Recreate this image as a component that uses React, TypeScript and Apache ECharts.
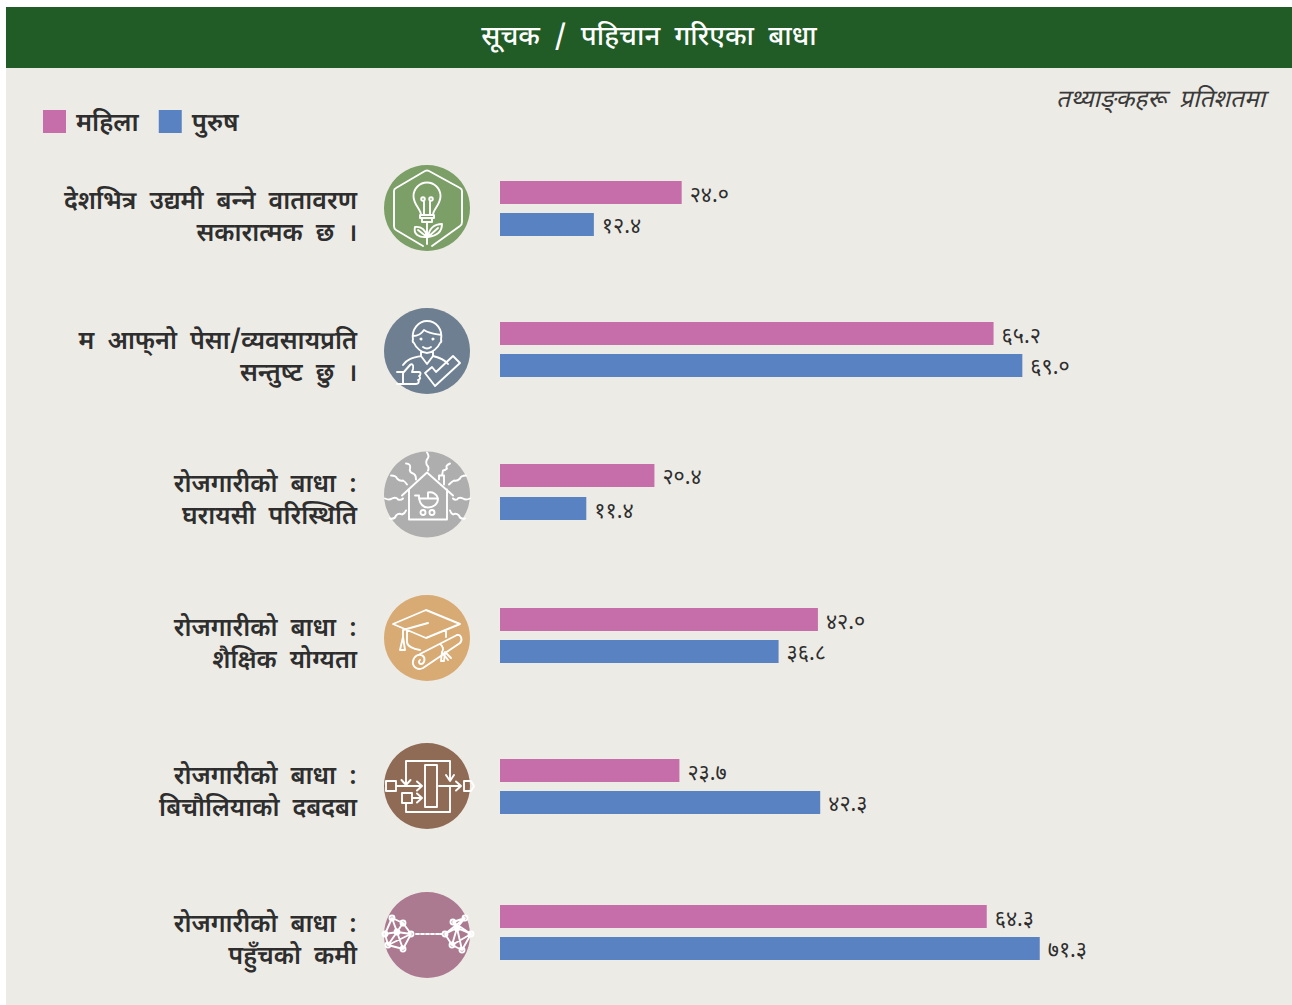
import React, { useEffect, useRef } from "react";
import * as echarts from "echarts";

const titleText = "सूचक  /  पहिचान  गरिएका  बाधा";
const unitText = "तथ्याङ्\u200Cकहरू  प्रतिशतमा";
const seriesNames = ["महिला", "पुरुष"];
const categories = [
  "देशभित्र  उद्यमी  बन्\u200Dने  वातावरण\nसकारात्मक  छ  ।",
  "म  आफ्\u200Cनो  पेसा/व्यवसायप्रति\nसन्तुष्\u200Dट  छु  ।",
  "रोजगारीको  बाधा  :\nघरायसी  परिस्थिति",
  "रोजगारीको  बाधा  :\nशैक्षिक  योग्यता",
  "रोजगारीको  बाधा  :\nबिचौलियाको  दबदबा",
  "रोजगारीको  बाधा  :\nपहुँचको  कमी",
];
const womenValues = [24.0, 65.2, 20.4, 42.0, 23.7, 64.3];
const menValues = [12.4, 69.0, 11.4, 36.8, 42.3, 71.3];
const rowTops = [181, 322, 464, 608, 759, 905];
const rowHeights = [55, 55, 56, 55, 55, 55];
const rowBarGaps = ["39%", "39%", "43.5%", "39%", "39%", "39%"];
const labelPaddings = [-22, -23, -22, -22, -25, -23];
const iconCentersY = [208, 351, 494.5, 638, 786, 935];
const iconColors = ["#7C9E67", "#6D7F90", "#AEAEAE", "#D8AA74", "#8F6B56", "#AC7A90"];

const FONT = "'Noto Sans Devanagari', 'Noto Sans', 'Lohit Devanagari', 'FreeSans', sans-serif";
const PINK = "#C66EAA";
const BLUE = "#5882C1";
const INK = "#2E2E2E";

const devanagariDigits = "०१२३४५६७८९";
const toNepali = (v: number) =>
  v.toFixed(1).replace(/[0-9]/g, (d) => devanagariDigits[Number(d)]);

const circ = (x: number, y: number, r: number) =>
  `M${x - r},${y}a${r},${r} 0 1 0 ${2 * r},0a${r},${r} 0 1 0 ${-2 * r},0`;

const netEdges = (p: number[][], e: number[][]) =>
  e.map(([a, b]) => `M${p[a][0]},${p[a][1]}L${p[b][0]},${p[b][1]}`).join("") +
  p.map(([x, y]) => circ(x, y, 2.5)).join("");

const netLeft = [[-35, -17], [-24, -12], [-42, -1], [-16, -1], [-39, 10], [-24, 14], [-30, -3]];
const netRight = [[38, -17], [26, -13], [18, -1], [44, -1], [25, 10], [35, 15], [30, -7]];
const netLinks = [[0, 1], [0, 2], [1, 3], [3, 5], [2, 4], [4, 5], [0, 6], [1, 6], [2, 6], [3, 6], [4, 6], [5, 6], [4, 3]];

const iconPaths = [
  "M-4,38L-31,22Q-33,21 -33,18V-17Q-33,-19 -31,-20L-2,-37Q0,-38 2,-37L33,-20Q35,-19 35,-17V14Q35,17 33,18L5,38" +
    "M-6,7C-6,1 -13.5,-3 -13.5,-12A13.5,13.5 0 1 1 13.5,-12C13.5,-3 6,1 6,7" +
    "M-7,7H7V10H-7ZM-5,10V14H5V10" +
    "M-3,7V-7M3,7V-7" + circ(-4, -9, 1.8) + circ(4, -9, 1.8) +
    "M0,14V36M0,29C-8,30 -14,26 -12,19C-6,18 -1,22 0,29M-9,22L0,29M1,29C9,28 15,24 15,16C7,16 2,21 1,29M11,20L1,29",
  "M-14,-11C-16,-22 -8,-30 0,-30C9,-30 16,-22 14,-11M-14,-15C-8,-15 -5,-18 -3,-21C3,-17 9,-17 14,-16" +
    "M-14,-12C-15,-9 -13,-8 -13,-8C-11,-3 -5,2 0,2C5,2 11,-3 13,-8C13,-8 15,-9 14,-12" +
    circ(-6, -12, 0.6) + circ(6, -12, 0.6) + "M-4,-4Q0,-1 4,-4" +
    "M-6,0V5L0,13L6,5V0M-6,5C-15,7 -20,8 -24,14M6,5C14,7 18,9 21,13" +
    "M-2,22L5,16L9,21L26,5L33,12L8,35Z" +
    "M-30,21H-24V33H-30M-24,22L-17,14C-15,12 -13,14 -14,18L-15,21H-8C-6,21 -6,24 -8,25C-6,26 -7,29 -9,29C-7,31 -9,33 -11,33H-24",
  "M-25,1L0,-22L26,1M-18,-5V25H20V-5M12,-15V-19H17V-10" +
    "M-12,1H-8L-8,4H11C11,10 6,13 1,13C-4,13 -7,9 -8,4M1,4V-2C6,-3 10,0 11,4" + circ(-4, 18, 2.5) + circ(5, 18, 2.5) +
    "M0,-42Q3,-38 0,-35Q-2,-31 1,-28Q2,-26 1,-24" +
    "M-21,-31Q-16,-31 -17,-26Q-18,-22 -14,-21Q-11,-20 -11,-15" +
    "M23,-31Q18,-29 20,-26Q18,-24 16,-24L15,-19" +
    "M-36,-19Q-31,-19 -30,-16Q-27,-13 -24,-14Q-22,-13 -20,-10" +
    "M39,-19Q34,-19 33,-16Q30,-13 27,-14Q25,-13 22,-10" +
    "M-42,4Q-38,6 -35,4Q-31,2 -29,5Q-26,6 -24,4" +
    "M43,4Q39,6 36,4Q32,2 30,5Q28,6 26,4" +
    "M-37,24Q-32,25 -31,21Q-28,18 -25,20Q-22,19 -21,16" +
    "M38,24Q33,25 32,21Q29,18 26,20Q24,19 23,16",
  "M-1,-28L33,-14L-1,0L-34,-14ZM-20,-8V4C-20,8 -14,11 -7,12M19,-8V-1" +
    "M1,-15L-24,-8V-1M-24,-1L-27,12H-22L-24,-1" +
    "M-7,16L30,-3C34,-4 36,2 33,5L-4,30C-10,33 -15,28 -14,23C-13,18 -8,15 -4,18C-1,21 -3,26 -6,26C-8,26 -9,23 -7,22" +
    "M13,6C16,8 17,12 15,14L14,23H17L18,14M18,14L24,20M15,14L21,22",
  "M-2,-21H10V21H-2Z" +
    "M-21,-1V-25H23V-6M19,-11L23,-5L27,-11" +
    "M23,0V26H-21V17" +
    "M-41,-5H-31V5H-41ZM-31,0H-5M-10,-4.5L-5,0L-10,4.5M-25.5,-6L-21,-1L-16.5,-6" +
    "M-25,7H-15V17H-25ZM-15,12H-5M-10,7.5L-5,12L-10,16.5" +
    "M12,0H34M29,-4.5L34,0L29,4.5M37,-5H44L47,0L44,5H37Z",
  netEdges(netLeft, netLinks) + netEdges(netRight, netLinks) +
    "M-11,-1H-8M-6,-1H-3M-1,-1H2M4,-1H7M9,-1H12M13.5,-1H15",
];

iconPaths.forEach((d, i) => {
  echarts.graphic.registerShape(`icon${i}`, echarts.graphic.extendPath(d, {}));
});

export default function App() {
  const ref = useRef<HTMLDivElement>(null);

  useEffect(() => {
    const chart = echarts.init(ref.current!, null, { renderer: "svg" });

    const grids = rowTops.map((top, i) => ({ left: 500, top, width: 757, height: rowHeights[i] }));
    const xAxes = rowTops.map((_, i) => ({
      type: "value", gridIndex: i, min: 0, max: 100, show: false,
    }));
    const yAxes = rowTops.map((_, i) => ({
      type: "category",
      gridIndex: i,
      data: [categories[i]],
      axisLine: { show: false },
      axisTick: { show: false },
      axisLabel: {
        margin: 143,
        align: "right",
        verticalAlign: "top",
        fontFamily: FONT,
        fontSize: 25,
        fontWeight: 600,
        lineHeight: 32,
        color: INK,
        padding: [labelPaddings[i], 0, 0, 0],
      },
    }));
    const makeSeries = (name: string, color: string, values: number[]) =>
      values.map((v, i) => ({
        name,
        type: "bar",
        xAxisIndex: i,
        yAxisIndex: i,
        data: [v],
        barWidth: 23,
        barGap: rowBarGaps[i],
        itemStyle: { color },
        label: {
          show: true,
          position: "right",
          distance: 8,
          offset: [0, 4],
          fontFamily: FONT,
          fontSize: 21.5,
          color: INK,
          formatter: (p: any) => toNepali(p.value),
        },
      }));

    chart.setOption({
      animation: false,
      legend: {
        left: 43,
        top: 110,
        padding: 0,
        itemWidth: 23,
        itemHeight: 23,
        itemGap: 20,
        icon: "rect",
        selectedMode: false,
        data: seriesNames,
        formatter: (name: string) => `{a|${name}}`,
        textStyle: {
          fontFamily: FONT,
          fontSize: 25.5,
          fontWeight: 600,
          color: INK,
          rich: { a: { fontFamily: FONT, fontSize: 25.5, fontWeight: 600, color: INK, padding: [6, 0, 0, 5] } },
        },
      },
      grid: grids,
      xAxis: xAxes,
      yAxis: yAxes,
      series: [...makeSeries(seriesNames[0], PINK, womenValues), ...makeSeries(seriesNames[1], BLUE, menValues)],
      graphic: [
        { type: "rect", z: -10, shape: { x: 6, y: 7, width: 1286, height: 998 }, style: { fill: "#EDEBE6" } },
        { type: "rect", z: -9, shape: { x: 6, y: 7, width: 1286, height: 61 }, style: { fill: "#215C26" } },
        {
          type: "text", z: 5, x: 649, y: 38,
          style: { text: titleText, fill: "#FFFFFF", font: `500 27.5px ${FONT}`, textAlign: "center", textVerticalAlign: "middle" },
        },
        {
          type: "text", z: 5, x: 1265, y: 101,
          style: { text: unitText, fill: "#3A3A3A", font: `italic 24.5px ${FONT}`, textAlign: "right", textVerticalAlign: "middle" },
        },
        ...iconCentersY.flatMap((cy, i) => [
          { type: "circle", z: 1, shape: { cx: 427, cy, r: 43 }, style: { fill: iconColors[i] } },
          {
            type: `icon${i}`, z: 2, x: 427, y: cy,
            style: { fill: "none", stroke: "#FFFFFF", lineWidth: 1.9, lineJoin: "round", lineCap: "round" },
          },
        ]),
      ],
    });
    return () => chart.dispose();
  }, []);

  return <div ref={ref} style={{ position: "absolute", left: 0, top: 0, width: 1292, height: 1005 }} />;
}
